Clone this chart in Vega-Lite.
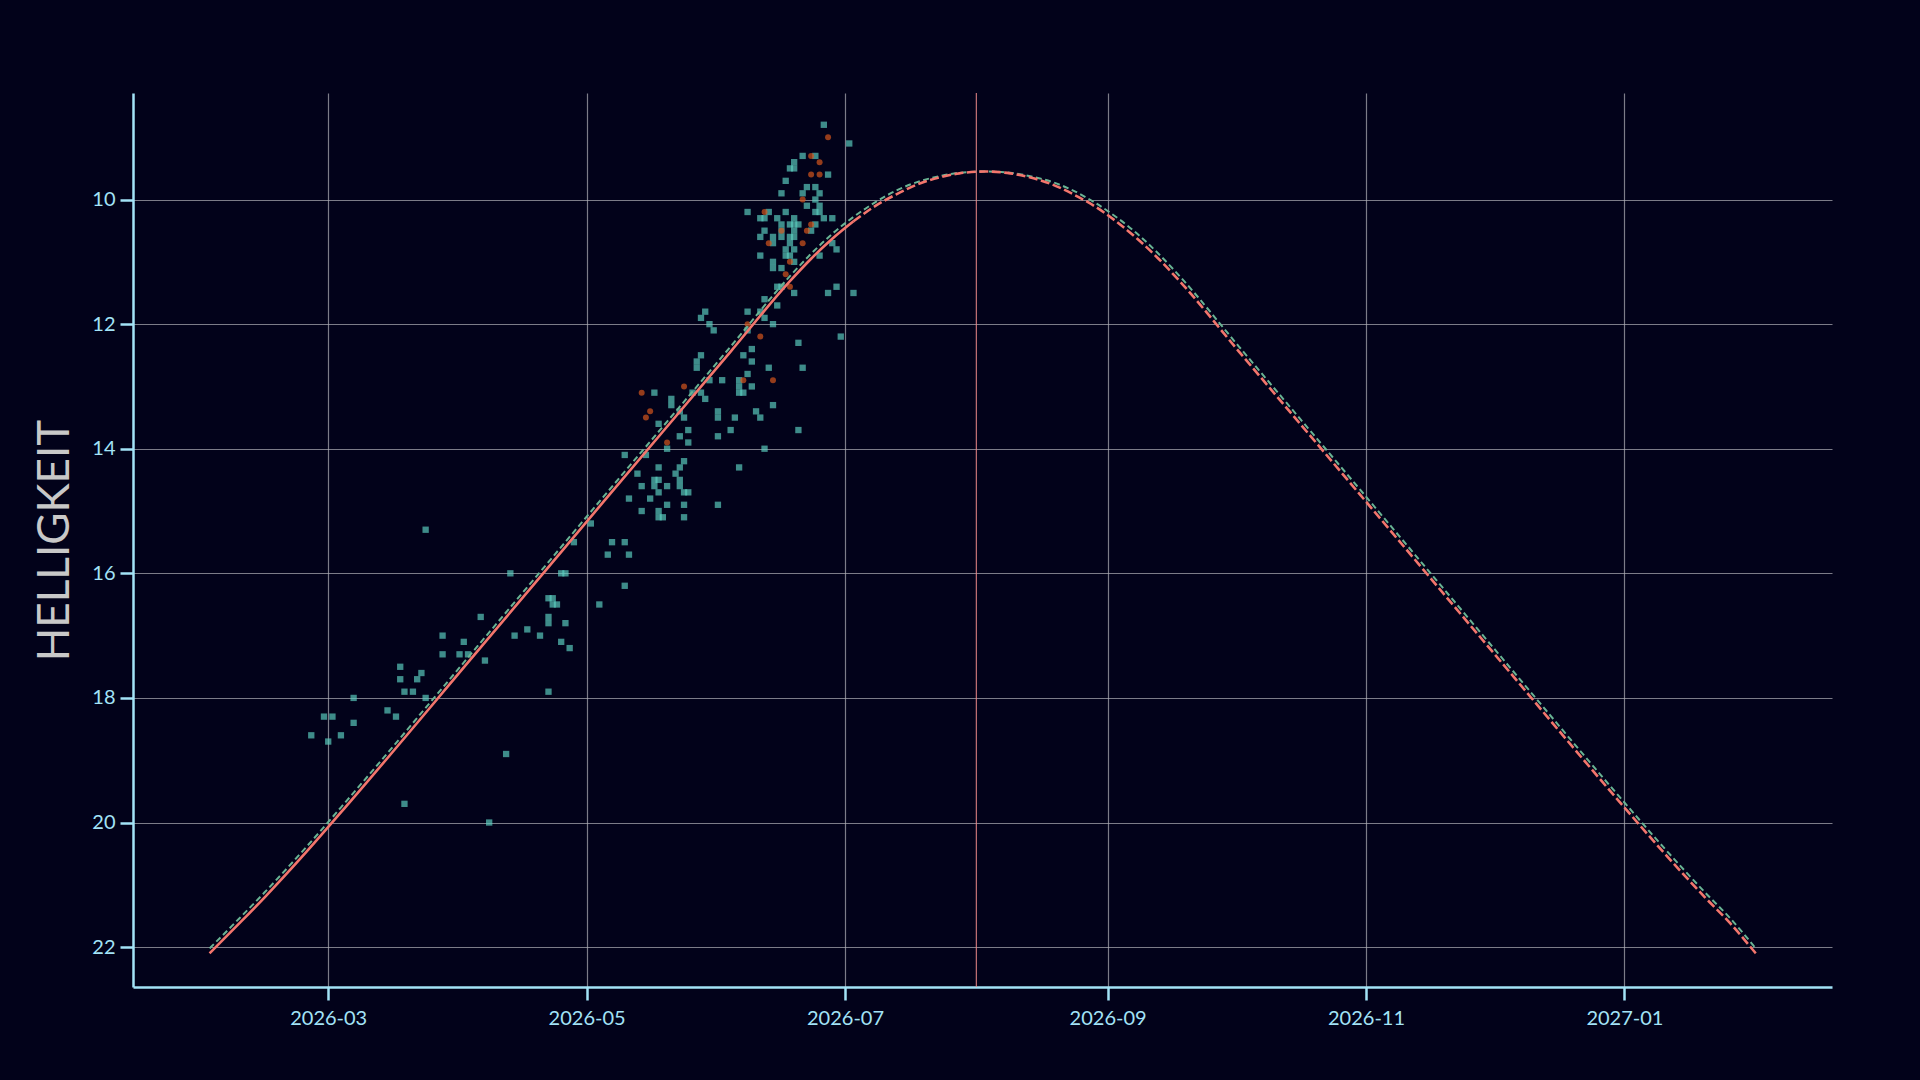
{
  "$schema": "https://vega.github.io/schema/vega-lite/v6.json",
  "width": 1699,
  "height": 894,
  "autosize": {"type": "none"},
  "padding": {"left": 133, "top": 93, "right": 88, "bottom": 93},
  "background": "#02021a",
  "config": {
    "view": {"stroke": null},
    "font": "Lato",
    "axis": {
      "domainColor": "#a3e3f7",
      "domainWidth": 2.5,
      "tickColor": "#a3e3f7",
      "tickWidth": 2.5,
      "tickSize": 13,
      "labelColor": "#a3e3f7",
      "labelFont": "Lato",
      "labelFontSize": 20,
      "grid": true,
      "gridColor": "#b0b0b8",
      "gridOpacity": 0.7,
      "gridWidth": 1.2,
      "labelFlush": false,
      "labelOverlap": false
    }
  },
  "layer": [
    {
      "data": {"values": [{"d": "2026-08-01"}]},
      "mark": {"type": "rule", "color": "#f08c8c", "strokeWidth": 1.1, "opacity": 0.9},
      "encoding": {
        "x": {
          "field": "d",
          "type": "temporal",
          "scale": {
            "type": "utc",
            "nice": false,
            "domain": [
              {"year": 2026, "month": 1, "date": 13, "hours": 22, "utc": true},
              {"year": 2027, "month": 2, "date": 19, "utc": true}
            ]
          },
          "axis": {
            "title": null,
            "format": "%Y-%m",
            "labelPadding": 8,
            "values": [
              {"year": 2026, "month": 3, "date": 1, "utc": true},
              {"year": 2026, "month": 5, "date": 1, "utc": true},
              {"year": 2026, "month": 7, "date": 1, "utc": true},
              {"year": 2026, "month": 9, "date": 1, "utc": true},
              {"year": 2026, "month": 11, "date": 1, "utc": true},
              {"year": 2027, "month": 1, "date": 1, "utc": true}
            ]
          }
        }
      }
    },
    {
      "data": {"values": [
        {"d": "2026-02-25", "m": 18.6}, {"d": "2026-02-28", "m": 18.3}, {"d": "2026-03-01", "m": 18.7}, {"d": "2026-03-02", "m": 18.3},
        {"d": "2026-03-04", "m": 18.6}, {"d": "2026-03-07", "m": 18.0}, {"d": "2026-03-07", "m": 18.4}, {"d": "2026-03-15", "m": 18.2},
        {"d": "2026-03-17", "m": 18.3}, {"d": "2026-03-18", "m": 17.5}, {"d": "2026-03-18", "m": 17.7}, {"d": "2026-03-19", "m": 17.9},
        {"d": "2026-03-19", "m": 19.7}, {"d": "2026-03-21", "m": 17.9}, {"d": "2026-03-22", "m": 17.7}, {"d": "2026-03-23", "m": 17.6},
        {"d": "2026-03-24", "m": 18.0}, {"d": "2026-03-24", "m": 15.3}, {"d": "2026-03-28", "m": 17.0}, {"d": "2026-03-28", "m": 17.3},
        {"d": "2026-04-01", "m": 17.3}, {"d": "2026-04-02", "m": 17.1}, {"d": "2026-04-03", "m": 17.3}, {"d": "2026-04-06", "m": 16.7},
        {"d": "2026-04-07", "m": 17.4}, {"d": "2026-04-08", "m": 20.0}, {"d": "2026-04-12", "m": 18.9}, {"d": "2026-04-14", "m": 17.0},
        {"d": "2026-04-17", "m": 16.9}, {"d": "2026-04-13", "m": 16.0}, {"d": "2026-04-20", "m": 17.0}, {"d": "2026-04-22", "m": 16.4},
        {"d": "2026-04-23", "m": 16.4}, {"d": "2026-04-23", "m": 16.5}, {"d": "2026-04-24", "m": 16.5}, {"d": "2026-04-22", "m": 16.7},
        {"d": "2026-04-22", "m": 16.8}, {"d": "2026-04-26", "m": 16.8}, {"d": "2026-04-25", "m": 17.1}, {"d": "2026-04-27", "m": 17.2},
        {"d": "2026-04-25", "m": 16.0}, {"d": "2026-04-26", "m": 16.0}, {"d": "2026-04-28", "m": 15.5}, {"d": "2026-05-02", "m": 15.2},
        {"d": "2026-05-04", "m": 16.5}, {"d": "2026-05-06", "m": 15.7}, {"d": "2026-05-07", "m": 15.5}, {"d": "2026-05-10", "m": 15.5},
        {"d": "2026-05-11", "m": 15.7}, {"d": "2026-05-10", "m": 16.2}, {"d": "2026-04-22", "m": 17.9},
        {"d": "2026-05-29", "m": 11.8}, {"d": "2026-05-28", "m": 11.9}, {"d": "2026-06-08", "m": 11.8}, {"d": "2026-06-11", "m": 11.8},
        {"d": "2026-06-12", "m": 11.9}, {"d": "2026-05-30", "m": 12.0}, {"d": "2026-05-31", "m": 12.1}, {"d": "2026-06-08", "m": 12.1},
        {"d": "2026-06-14", "m": 12.0}, {"d": "2026-06-30", "m": 12.2}, {"d": "2026-06-20", "m": 12.3}, {"d": "2026-06-09", "m": 12.4},
        {"d": "2026-06-07", "m": 12.5}, {"d": "2026-06-09", "m": 12.6}, {"d": "2026-06-13", "m": 12.7}, {"d": "2026-06-21", "m": 12.7},
        {"d": "2026-05-28", "m": 12.5}, {"d": "2026-05-27", "m": 12.6}, {"d": "2026-05-27", "m": 12.7}, {"d": "2026-06-08", "m": 12.8},
        {"d": "2026-05-30", "m": 12.9}, {"d": "2026-06-02", "m": 12.9}, {"d": "2026-06-06", "m": 12.9}, {"d": "2026-06-09", "m": 13.0},
        {"d": "2026-06-06", "m": 13.0}, {"d": "2026-06-06", "m": 13.1}, {"d": "2026-06-07", "m": 13.1}, {"d": "2026-05-17", "m": 13.1},
        {"d": "2026-05-26", "m": 13.1}, {"d": "2026-05-28", "m": 13.1}, {"d": "2026-05-21", "m": 13.2}, {"d": "2026-05-29", "m": 13.2},
        {"d": "2026-05-21", "m": 13.3}, {"d": "2026-06-14", "m": 13.3}, {"d": "2026-05-23", "m": 13.4}, {"d": "2026-06-01", "m": 13.4},
        {"d": "2026-06-10", "m": 13.4}, {"d": "2026-05-24", "m": 13.5}, {"d": "2026-06-01", "m": 13.5}, {"d": "2026-06-05", "m": 13.5},
        {"d": "2026-06-11", "m": 13.5}, {"d": "2026-05-18", "m": 13.6}, {"d": "2026-05-25", "m": 13.7}, {"d": "2026-06-04", "m": 13.7},
        {"d": "2026-06-20", "m": 13.7}, {"d": "2026-05-23", "m": 13.8}, {"d": "2026-06-01", "m": 13.8}, {"d": "2026-05-25", "m": 13.9},
        {"d": "2026-05-20", "m": 14.0}, {"d": "2026-06-12", "m": 14.0}, {"d": "2026-05-10", "m": 14.1}, {"d": "2026-05-15", "m": 14.1},
        {"d": "2026-05-24", "m": 14.2}, {"d": "2026-05-18", "m": 14.3}, {"d": "2026-05-23", "m": 14.3}, {"d": "2026-06-06", "m": 14.3},
        {"d": "2026-05-22", "m": 14.4}, {"d": "2026-05-13", "m": 14.4}, {"d": "2026-05-17", "m": 14.5}, {"d": "2026-05-18", "m": 14.5},
        {"d": "2026-05-23", "m": 14.5}, {"d": "2026-05-14", "m": 14.6}, {"d": "2026-05-17", "m": 14.6}, {"d": "2026-05-20", "m": 14.6},
        {"d": "2026-05-23", "m": 14.6}, {"d": "2026-05-18", "m": 14.7}, {"d": "2026-05-24", "m": 14.7}, {"d": "2026-05-25", "m": 14.7},
        {"d": "2026-05-11", "m": 14.8}, {"d": "2026-05-16", "m": 14.8}, {"d": "2026-05-20", "m": 14.9}, {"d": "2026-05-24", "m": 14.9},
        {"d": "2026-06-01", "m": 14.9}, {"d": "2026-05-14", "m": 15.0}, {"d": "2026-05-18", "m": 15.0}, {"d": "2026-05-18", "m": 15.1},
        {"d": "2026-05-19", "m": 15.1}, {"d": "2026-05-24", "m": 15.1},
        {"d": "2026-06-26", "m": 8.8}, {"d": "2026-07-02", "m": 9.1}, {"d": "2026-06-21", "m": 9.3}, {"d": "2026-06-24", "m": 9.3},
        {"d": "2026-06-19", "m": 9.4}, {"d": "2026-06-18", "m": 9.5}, {"d": "2026-06-19", "m": 9.5}, {"d": "2026-06-27", "m": 9.6},
        {"d": "2026-06-17", "m": 9.7}, {"d": "2026-06-16", "m": 9.9}, {"d": "2026-06-21", "m": 9.9}, {"d": "2026-06-22", "m": 9.8},
        {"d": "2026-06-24", "m": 9.8}, {"d": "2026-06-25", "m": 9.9}, {"d": "2026-06-24", "m": 10.0}, {"d": "2026-06-22", "m": 10.1},
        {"d": "2026-06-25", "m": 10.1}, {"d": "2026-06-08", "m": 10.2}, {"d": "2026-06-13", "m": 10.2}, {"d": "2026-06-17", "m": 10.2},
        {"d": "2026-06-24", "m": 10.2}, {"d": "2026-06-25", "m": 10.2}, {"d": "2026-06-11", "m": 10.3}, {"d": "2026-06-12", "m": 10.3},
        {"d": "2026-06-15", "m": 10.3}, {"d": "2026-06-19", "m": 10.3}, {"d": "2026-06-26", "m": 10.3}, {"d": "2026-06-28", "m": 10.3},
        {"d": "2026-06-16", "m": 10.4}, {"d": "2026-06-18", "m": 10.4}, {"d": "2026-06-19", "m": 10.4}, {"d": "2026-06-20", "m": 10.4},
        {"d": "2026-06-24", "m": 10.4}, {"d": "2026-06-12", "m": 10.5}, {"d": "2026-06-16", "m": 10.5}, {"d": "2026-06-19", "m": 10.5},
        {"d": "2026-06-23", "m": 10.5}, {"d": "2026-06-11", "m": 10.6}, {"d": "2026-06-14", "m": 10.6}, {"d": "2026-06-16", "m": 10.6},
        {"d": "2026-06-18", "m": 10.6}, {"d": "2026-06-19", "m": 10.6}, {"d": "2026-06-14", "m": 10.7}, {"d": "2026-06-18", "m": 10.7},
        {"d": "2026-06-28", "m": 10.7}, {"d": "2026-06-17", "m": 10.8}, {"d": "2026-06-19", "m": 10.8}, {"d": "2026-06-29", "m": 10.8},
        {"d": "2026-06-11", "m": 10.9}, {"d": "2026-06-17", "m": 10.9}, {"d": "2026-06-18", "m": 10.9}, {"d": "2026-06-25", "m": 10.9},
        {"d": "2026-06-14", "m": 11.0}, {"d": "2026-06-19", "m": 11.0}, {"d": "2026-06-14", "m": 11.1}, {"d": "2026-06-16", "m": 11.1},
        {"d": "2026-06-15", "m": 11.4}, {"d": "2026-06-16", "m": 11.4}, {"d": "2026-06-29", "m": 11.4}, {"d": "2026-06-19", "m": 11.5},
        {"d": "2026-06-27", "m": 11.5}, {"d": "2026-07-03", "m": 11.5}, {"d": "2026-06-12", "m": 11.6}, {"d": "2026-06-15", "m": 11.7}
      ]},
      "mark": {"type": "point", "shape": "square", "filled": true, "size": 40, "color": "#5ccfc0", "opacity": 0.68},
      "encoding": {
        "x": {"field": "d", "type": "temporal"},
        "y": {
          "field": "m",
          "type": "quantitative",
          "scale": {"domain": [8.29, 22.64], "reverse": true, "nice": false, "zero": false},
          "axis": {
            "title": "HELLIGKEIT",
            "titleFont": "Lato",
            "titleFontSize": 44,
            "titleFontWeight": "normal",
            "titleColor": "#c8c8c8",
            "titlePadding": 14,
            "labelPadding": 5,
            "format": "d",
            "values": [10, 12, 14, 16, 18, 20, 22]
          }
        }
      }
    },
    {
      "data": {"values": [
        {"d": "2026-06-27", "m": 9.0}, {"d": "2026-06-23", "m": 9.3}, {"d": "2026-06-25", "m": 9.4}, {"d": "2026-06-23", "m": 9.6},
        {"d": "2026-06-25", "m": 9.6}, {"d": "2026-06-21", "m": 10.0}, {"d": "2026-06-12", "m": 10.2}, {"d": "2026-06-23", "m": 10.4},
        {"d": "2026-06-16", "m": 10.5}, {"d": "2026-06-22", "m": 10.5}, {"d": "2026-06-13", "m": 10.7}, {"d": "2026-06-21", "m": 10.7},
        {"d": "2026-06-18", "m": 11.0}, {"d": "2026-06-17", "m": 11.2}, {"d": "2026-06-18", "m": 11.4}, {"d": "2026-06-08", "m": 12.0},
        {"d": "2026-06-11", "m": 12.2}, {"d": "2026-06-07", "m": 12.9}, {"d": "2026-06-14", "m": 12.9}, {"d": "2026-05-24", "m": 13.0},
        {"d": "2026-05-14", "m": 13.1}, {"d": "2026-05-16", "m": 13.4}, {"d": "2026-05-15", "m": 13.5}, {"d": "2026-05-20", "m": 13.9}
      ]},
      "mark": {"type": "circle", "size": 36, "color": "#d4561c", "opacity": 0.7},
      "encoding": {
        "x": {"field": "d", "type": "temporal"},
        "y": {"field": "m", "type": "quantitative"}
      }
    },
    {
      "data": {"values": [
        {"d": "2026-02-01", "m": 22.02}, {"d": "2026-02-08", "m": 21.54}, {"d": "2026-02-14", "m": 21.12}, {"d": "2026-02-24", "m": 20.38},
        {"d": "2026-03-06", "m": 19.60}, {"d": "2026-04-05", "m": 17.19}, {"d": "2026-05-05", "m": 14.77}, {"d": "2026-06-04", "m": 12.36},
        {"d": "2026-06-18", "m": 11.23}, {"d": "2026-06-23", "m": 10.87}, {"d": "2026-06-28", "m": 10.55}, {"d": "2026-07-03", "m": 10.28},
        {"d": "2026-07-08", "m": 10.05}, {"d": "2026-07-13", "m": 9.86}, {"d": "2026-07-18", "m": 9.72}, {"d": "2026-07-23", "m": 9.63},
        {"d": "2026-07-28", "m": 9.57}, {"d": "2026-08-03", "m": 9.55}, {"d": "2026-08-09", "m": 9.57}, {"d": "2026-08-14", "m": 9.63},
        {"d": "2026-08-19", "m": 9.72}, {"d": "2026-08-24", "m": 9.86}, {"d": "2026-08-29", "m": 10.05}, {"d": "2026-09-03", "m": 10.28},
        {"d": "2026-09-08", "m": 10.55}, {"d": "2026-09-13", "m": 10.87}, {"d": "2026-09-18", "m": 11.23}, {"d": "2026-10-02", "m": 12.36},
        {"d": "2026-11-01", "m": 14.77}, {"d": "2026-12-01", "m": 17.19}, {"d": "2026-12-31", "m": 19.60}, {"d": "2027-01-10", "m": 20.38},
        {"d": "2027-01-20", "m": 21.12}, {"d": "2027-01-26", "m": 21.54}, {"d": "2027-02-01", "m": 22.02}
      ]},
      "mark": {"type": "line", "color": "#68b494", "strokeWidth": 2, "strokeDash": [6, 3.5], "interpolate": "monotone"},
      "encoding": {
        "x": {"field": "d", "type": "temporal"},
        "y": {"field": "m", "type": "quantitative"}
      }
    },
    {
      "data": {"values": [
        {"d": "2026-02-01", "m": 22.10}, {"d": "2026-02-08", "m": 21.62}, {"d": "2026-02-14", "m": 21.20}, {"d": "2026-02-24", "m": 20.46},
        {"d": "2026-03-06", "m": 19.68}, {"d": "2026-04-05", "m": 17.27}, {"d": "2026-05-05", "m": 14.85}, {"d": "2026-06-04", "m": 12.44},
        {"d": "2026-06-18", "m": 11.31}, {"d": "2026-06-23", "m": 10.95}, {"d": "2026-06-28", "m": 10.63}, {"d": "2026-07-03", "m": 10.35}
      ]},
      "mark": {"type": "line", "color": "#f3756c", "strokeWidth": 2.6, "interpolate": "monotone"},
      "encoding": {
        "x": {"field": "d", "type": "temporal"},
        "y": {"field": "m", "type": "quantitative"}
      }
    },
    {
      "data": {"values": [
        {"d": "2026-07-03", "m": 10.35}, {"d": "2026-07-08", "m": 10.11}, {"d": "2026-07-13", "m": 9.92}, {"d": "2026-07-18", "m": 9.76},
        {"d": "2026-07-23", "m": 9.65}, {"d": "2026-07-28", "m": 9.58}, {"d": "2026-08-03", "m": 9.55}, {"d": "2026-08-09", "m": 9.58},
        {"d": "2026-08-14", "m": 9.65}, {"d": "2026-08-19", "m": 9.76}, {"d": "2026-08-24", "m": 9.92}, {"d": "2026-08-29", "m": 10.11},
        {"d": "2026-09-03", "m": 10.35}, {"d": "2026-09-08", "m": 10.63}, {"d": "2026-09-13", "m": 10.95}, {"d": "2026-09-18", "m": 11.31},
        {"d": "2026-10-02", "m": 12.44}, {"d": "2026-11-01", "m": 14.85}, {"d": "2026-12-01", "m": 17.27}, {"d": "2026-12-31", "m": 19.68},
        {"d": "2027-01-10", "m": 20.46}, {"d": "2027-01-20", "m": 21.20}, {"d": "2027-01-26", "m": 21.62}, {"d": "2027-02-01", "m": 22.10}
      ]},
      "mark": {"type": "line", "color": "#f3756c", "strokeWidth": 2.6, "strokeDash": [9, 3.5], "interpolate": "monotone"},
      "encoding": {
        "x": {"field": "d", "type": "temporal"},
        "y": {"field": "m", "type": "quantitative"}
      }
    }
  ]
}
